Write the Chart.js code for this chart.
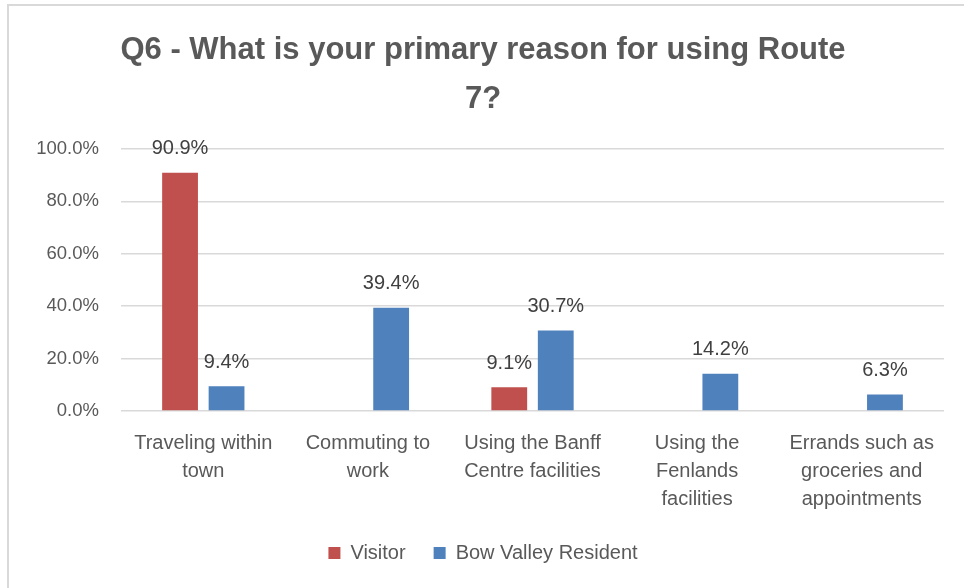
<!DOCTYPE html>
<html lang="en">
<head>
  <meta charset="UTF-8">
  <title>Q6 - Route 7</title>
  <script src="https://cdn.jsdelivr.net/npm/chart.js"></script>
  <style>
    body {
      margin: 0;
      background: #fff;
    }
    .frame {
      position: absolute;
      left: 7px;
      top: 4px;
      right: 0;
      bottom: 0;
      border-top: 2px solid #d9d9d9;
      border-left: 2px solid #d9d9d9;
    }
    .chart-wrap {
      position: absolute;
      left: 0;
      top: 0;
      width: 964px;
      height: 588px;
    }
  </style>
</head>
<body>
  <div class="frame"></div>
  <div class="chart-wrap">
    <canvas id="route7"></canvas>
  </div>

  <script>
    const reasons = [
      ['Traveling within', 'town'],
      ['Commuting to', 'work'],
      ['Using the Banff', 'Centre facilities'],
      ['Using the', 'Fenlands', 'facilities'],
      ['Errands such as', 'groceries and', 'appointments']
    ];
    const visitorPct = [90.9, null, 9.1, null, null];
    const residentPct = [9.4, 39.4, 30.7, 14.2, 6.3];
    const yTicks = [0, 20, 40, 60, 80, 100];

    const textGrey = '#595959';
    const sans = '"Liberation Sans", Arial, sans-serif';

    // value labels above each bar
    const barLabels = {
      id: 'barLabels',
      afterDatasetsDraw(chart) {
        const ctx = chart.ctx;
        ctx.save();
        ctx.font = '20px ' + sans;
        ctx.fillStyle = '#404040';
        ctx.textAlign = 'center';
        ctx.textBaseline = 'middle';
        chart.data.datasets.forEach((ds, i) => {
          chart.getDatasetMeta(i).data.forEach((bar, j) => {
            const v = ds.data[j];
            if (v === null) return;
            ctx.fillText(v.toFixed(1) + '%', bar.x, bar.y - 24);
          });
        });
        ctx.restore();
      }
    };

    new Chart(document.getElementById('route7'), {
      type: 'bar',
      data: {
        labels: reasons,
        datasets: [
          {
            label: 'Visitor',
            data: visitorPct,
            backgroundColor: '#c0504d',
            barPercentage: 0.77,
            categoryPercentage: 0.565
          },
          {
            label: 'Bow Valley Resident',
            data: residentPct,
            backgroundColor: '#4f81bd',
            barPercentage: 0.77,
            categoryPercentage: 0.565
          }
        ]
      },
      options: {
        responsive: true,
        maintainAspectRatio: false,
        animation: false,
        layout: { padding: { left: 22, right: 20, top: 0, bottom: 15 } },
        plugins: {
          title: {
            display: true,
            text: ['Q6 - What is your primary reason for using Route', '7?'],
            color: textGrey,
            font: { family: '"Liberation Sans Narrow", ' + sans, size: 31, weight: 'bold', lineHeight: 49 / 31 },
            padding: { top: 26, bottom: 25 }
          },
          legend: {
            position: 'bottom',
            labels: {
              color: textGrey,
              font: { family: sans, size: 20 },
              boxWidth: 12,
              boxHeight: 12,
              padding: 28
            }
          },
          tooltip: { enabled: false }
        },
        scales: {
          x: {
            grid: { display: false },
            border: { display: false },
            ticks: {
              color: textGrey,
              font: { family: sans, size: 20, lineHeight: 28 / 20 },
              padding: 10,
              maxRotation: 0,
              autoSkip: false
            },
            afterFit(scale) { scale.height = 104; }
          },
          y: {
            min: 0,
            max: 100,
            afterBuildTicks(scale) {
              scale.ticks = yTicks.map(v => ({ value: v }));
            },
            grid: { color: '#d9d9d9', lineWidth: 1.5, drawTicks: false },
            border: { display: false },
            ticks: {
              color: textGrey,
              font: { family: sans, size: 18.5 },
              padding: 22,
              callback: v => v.toFixed(1) + '%'
            },
            afterFit(scale) { scale.width = 99; }
          }
        }
      },
      plugins: [barLabels]
    });
  </script>
</body>
</html>
